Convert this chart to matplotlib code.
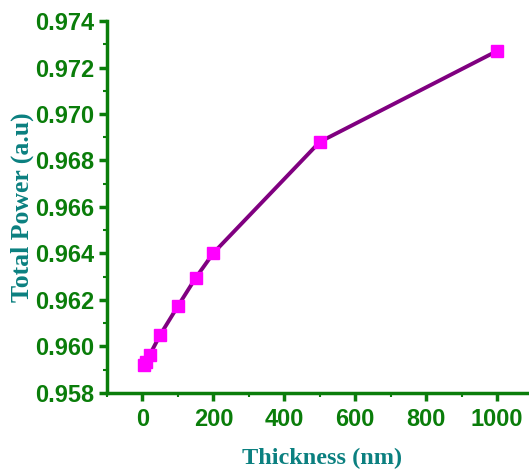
import numpy as np
import matplotlib.pyplot as plt
from matplotlib.ticker import MultipleLocator

# thickness in nm and total power
thickness = [5, 10, 20, 50, 100, 150, 200, 500, 1000]
total_power = [0.95920, 0.95932, 0.95963, 0.96050, 0.96174, 0.96295, 0.96402, 0.96880, 0.97271]

green = '#0a7d0a'
teal = '#0b8080'

fig = plt.figure(figsize=(5.29, 4.72), dpi=100)
ax = fig.add_axes([0.2023, 0.1674, 0.7977, 0.7881])

ax.plot(thickness, total_power, color='#800080', lw=2.8, marker='s',
        markersize=8, markerfacecolor='#ff00ff', markeredgecolor='#ff00ff', zorder=3)

ax.set_xlim(-100, 1090)
ax.set_ylim(0.958, 0.974)
ax.xaxis.set_major_locator(MultipleLocator(200))
ax.xaxis.set_minor_locator(MultipleLocator(100))
ax.yaxis.set_major_locator(MultipleLocator(0.002))
ax.yaxis.set_minor_locator(MultipleLocator(0.001))
ax.yaxis.set_major_formatter(plt.FuncFormatter(lambda v, p: f'{v:.3f}'))

for side in ['top', 'right']:
    ax.spines[side].set_visible(False)
for side in ['left', 'bottom']:
    ax.spines[side].set_color(green)
    ax.spines[side].set_linewidth(2.5)

ax.tick_params(which='major', direction='out', length=6, width=2.5, color=green)
ax.tick_params(which='minor', direction='out', length=3, width=1.5, color=green)
ax.tick_params(axis='x', which='major', pad=5)
ax.tick_params(axis='y', which='major', pad=3)
for lab in ax.get_xticklabels() + ax.get_yticklabels():
    lab.set_fontfamily('Liberation Sans')
    lab.set_fontweight('bold')
    lab.set_fontsize(17)
    lab.set_color(green)

ax.set_xlabel('Thickness (nm)', fontfamily='Liberation Serif', fontweight='bold',
              fontsize=17.5, color=teal)
ax.xaxis.set_label_coords(0.509, -0.148)
ax.set_ylabel('Total Power (a.u)', fontfamily='Liberation Serif', fontweight='bold',
              fontsize=18.5, color=teal, labelpad=1)

fig.savefig('out.png', dpi=100)
